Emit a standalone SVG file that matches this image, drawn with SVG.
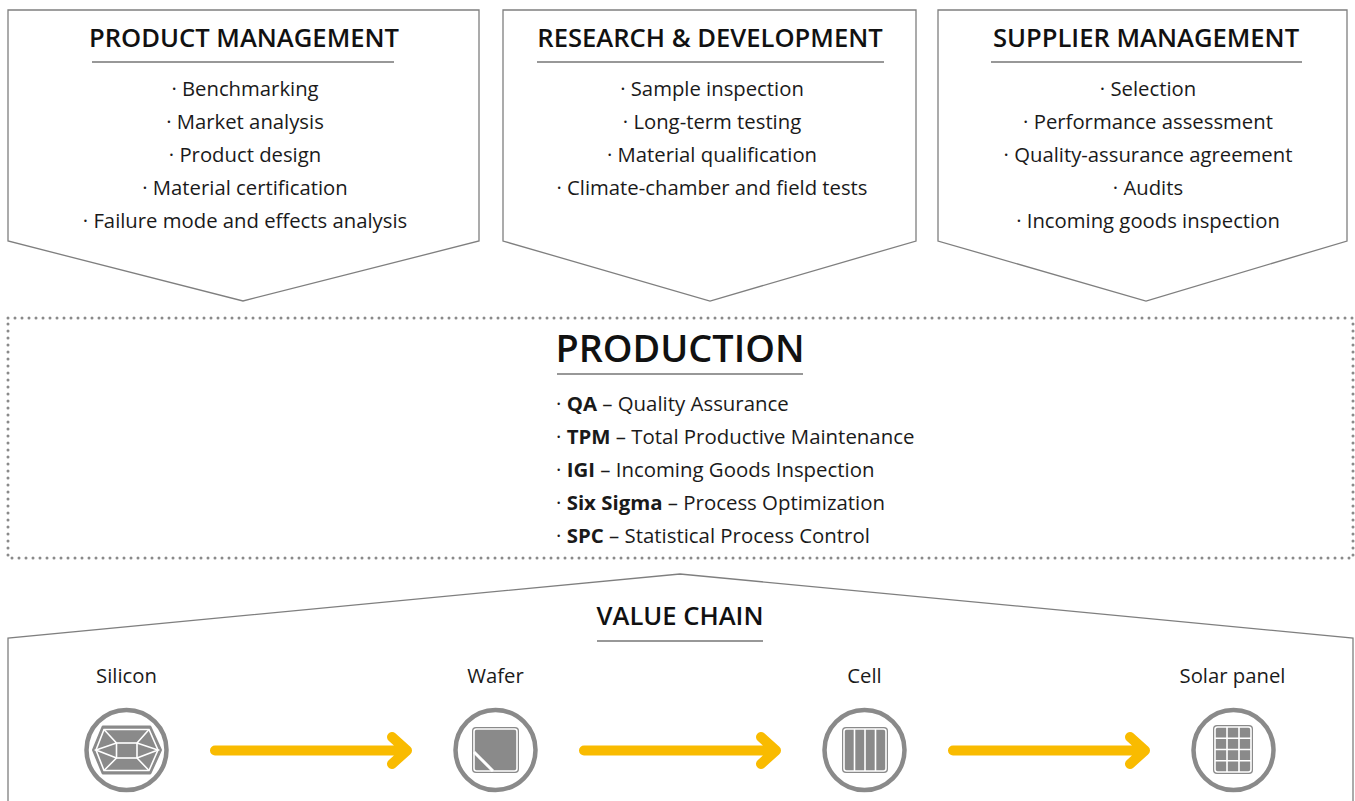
<svg xmlns="http://www.w3.org/2000/svg" width="1355" height="801" viewBox="0 0 1355 801">
<defs>
<style>
.shape{fill:#fff;stroke:#7f7f7f;stroke-width:1.3}
.title{font-family:"Open Sans","Liberation Sans",sans-serif;font-weight:600;font-size:25.6px;fill:#111;text-anchor:middle}
.item{font-family:"Open Sans","Liberation Sans",sans-serif;font-size:20.3px;fill:#1a1a1a;text-anchor:middle}
.pitem{font-family:"Open Sans","Liberation Sans",sans-serif;font-size:20.4px;fill:#1a1a1a}
.b{font-weight:700}
.uline{stroke:#333;stroke-width:1.2}
.dots{fill:none;stroke:#8a8a8a;stroke-width:3;stroke-linecap:round;stroke-dasharray:0 7}
.ring{fill:#fff;stroke:#8a8a8a;stroke-width:4.5}
.wl{stroke:#fff;fill:none;stroke-width:1.6}
.arrow{fill:none;stroke:#f9bb00;stroke-width:10;stroke-linecap:round;stroke-linejoin:round}
</style>
</defs>

<g id="product-management">
<path class="shape" d="M8,10 H479 V241 L243,301 L8,241 Z"/>
<text class="title" x="244" y="47">PRODUCT MANAGEMENT</text>
<line class="uline" x1="92" y1="62" x2="394" y2="62"/>
<text class="item" x="245" y="96">· Benchmarking</text>
<text class="item" x="245" y="129">· Market analysis</text>
<text class="item" x="245" y="162">· Product design</text>
<text class="item" x="245" y="195">· Material certification</text>
<text class="item" x="245" y="228">· Failure mode and effects analysis</text>
</g>

<g id="research-development">
<path class="shape" d="M503,10 H916 V241 L710,301 L503,241 Z"/>
<text class="title" x="710" y="47">RESEARCH &amp; DEVELOPMENT</text>
<line class="uline" x1="537" y1="62" x2="884" y2="62"/>
<text class="item" x="712" y="96">· Sample inspection</text>
<text class="item" x="712" y="129">· Long-term testing</text>
<text class="item" x="712" y="162">· Material qualification</text>
<text class="item" x="712" y="195">· Climate-chamber and field tests</text>
</g>

<g id="supplier-management">
<path class="shape" d="M938,10 H1347 V241 L1146,301 L938,241 Z"/>
<text class="title" x="1146" y="47">SUPPLIER MANAGEMENT</text>
<line class="uline" x1="991" y1="62" x2="1302" y2="62"/>
<text class="item" x="1148" y="96">· Selection</text>
<text class="item" x="1148" y="129">· Performance assessment</text>
<text class="item" x="1148" y="162">· Quality-assurance agreement</text>
<text class="item" x="1148" y="195">· Audits</text>
<text class="item" x="1148" y="228">· Incoming goods inspection</text>
</g>

<g id="production">
<rect class="dots" x="8" y="318" width="1345" height="240"/>
<text class="title" x="680" y="362" style="font-size:37.8px">PRODUCTION</text>
<line class="uline" x1="557" y1="374" x2="803" y2="374"/>
<text class="pitem" x="556" y="411">· <tspan class="b">QA</tspan> – Quality Assurance</text>
<text class="pitem" x="556" y="444">· <tspan class="b">TPM</tspan> – Total Productive Maintenance</text>
<text class="pitem" x="556" y="477">· <tspan class="b">IGI</tspan> – Incoming Goods Inspection</text>
<text class="pitem" x="556" y="510">· <tspan class="b">Six Sigma</tspan> – Process Optimization</text>
<text class="pitem" x="556" y="543">· <tspan class="b">SPC</tspan> – Statistical Process Control</text>
</g>

<g id="value-chain">
<path class="shape" d="M8,805 V638 L680,574 L1353,638 V805"/>
<text class="title" x="680" y="625">VALUE CHAIN</text>
<line class="uline" x1="597" y1="641" x2="763" y2="641"/>
</g>

<g id="silicon">
<text class="item" x="126.5" y="683">Silicon</text>
<circle class="ring" cx="126.5" cy="750" r="40"/>
<path d="M103,727 H150 L160.5,750 L150,773 H103 L93.5,750 Z" fill="#8a8a8a" stroke="#8a8a8a" stroke-width="3" stroke-linejoin="round"/>
<path d="M104,729.5 H149 L158,750 L149,770.5 H104 L96,750 Z" class="wl"/>
<rect x="116.5" y="743" width="20.5" height="15" class="wl"/>
<path class="wl" d="M116.5,743 L104,729.5 M137,743 L149,729.5 M116.5,758 L104,770.5 M137,758 L149,770.5 M116.5,743 L96,750 L116.5,758 M137,743 L158,750 L137,758"/>
</g>

<g id="wafer">
<text class="item" x="495.5" y="683">Wafer</text>
<circle class="ring" cx="495.5" cy="750" r="40"/>
<rect x="472" y="727" width="47" height="46" rx="4" fill="#8a8a8a"/>
<rect x="474" y="729" width="43" height="42" rx="2.5" class="wl"/>
<line x1="474" y1="752" x2="493" y2="771" stroke="#fff" stroke-width="3"/>
</g>

<g id="cell">
<text class="item" x="864.5" y="683">Cell</text>
<circle class="ring" cx="864.5" cy="750" r="40"/>
<rect x="842" y="727" width="46" height="46" rx="4" fill="#8a8a8a"/>
<rect x="844" y="729" width="42" height="42" rx="2.5" class="wl"/>
<path class="wl" d="M854.5,729 V771 M865,729 V771 M875.5,729 V771"/>
</g>

<g id="solar-panel">
<text class="item" x="1232.5" y="683">Solar panel</text>
<circle class="ring" cx="1233.5" cy="750" r="40"/>
<rect x="1213" y="725" width="40" height="49" rx="4" fill="#8a8a8a"/>
<rect x="1215" y="727" width="36" height="45" rx="2.5" class="wl"/>
<path class="wl" d="M1227,727 V772 M1239,727 V772 M1215,738.3 H1251 M1215,749.5 H1251 M1215,760.8 H1251"/>
</g>

<g id="connectors">
<path class="arrow" d="M215,750.5 H407 M392,737 L407,750.5 L392,764"/>
<path class="arrow" d="M584,750.5 H776 M761,737 L776,750.5 L761,764"/>
<path class="arrow" d="M953,750.5 H1145 M1130,737 L1145,750.5 L1130,764"/>
</g>
</svg>
